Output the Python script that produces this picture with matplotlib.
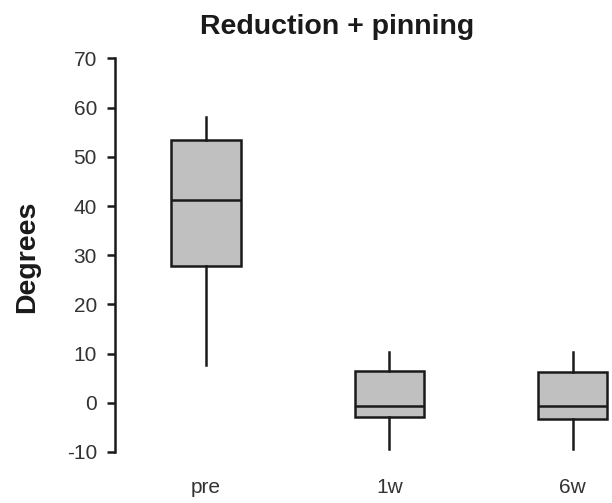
import matplotlib
matplotlib.use("Agg")
import matplotlib.pyplot as plt

plt.rcParams['font.family'] = ['Liberation Sans', 'DejaVu Sans']

# box stats (degrees)
groups = ['pre', '1w', '6w']
whislo = [7.6, -9.4, -9.4]
q1 = [27.9, -2.8, -3.2]
med = [41.3, -0.65, -0.65]
q3 = [53.4, 6.4, 6.3]
whishi = [58.2, 10.3, 10.3]

yticks = [-10, 0, 10, 20, 30, 40, 50, 60, 70]

stats = []
for i in range(len(groups)):
    stats.append(dict(label=groups[i], whislo=whislo[i], q1=q1[i], med=med[i],
                      q3=q3[i], whishi=whishi[i], fliers=[]))

fig = plt.figure(figsize=(6.12, 5.03), dpi=100)
ax = fig.add_axes([0.188, 0.1014, 0.812, 0.7823])

lw = 1.8
ax.bxp(stats, positions=[1, 2, 3], widths=0.38, patch_artist=True, showcaps=False,
       boxprops=dict(facecolor='#c0c0c0', edgecolor='#1a1a1a', linewidth=lw),
       medianprops=dict(color='#1a1a1a', linewidth=lw),
       whiskerprops=dict(color='#1a1a1a', linewidth=lw))

ax.set_xlim(0.503, 3.215)
ax.set_ylim(-10, 70)
ax.set_yticks(yticks)
ax.set_yticklabels([str(t) for t in yticks])

for s in ['top', 'right', 'bottom']:
    ax.spines[s].set_visible(False)
ax.spines['left'].set_linewidth(1.8)
ax.spines['left'].set_color('#1a1a1a')

ax.tick_params(axis='y', length=6, width=1.8, color='#1a1a1a', pad=7, labelsize=15, labelcolor='#333333')
ax.tick_params(axis='x', length=0, pad=19, labelsize=15, labelcolor='#333333')

fig.text(0.5515, 0.932, 'Reduction + pinning', ha='center', va='baseline',
         fontsize=20.5, fontweight='bold', color='#1a1a1a')
fig.text(0.044, 0.489, 'Degrees', ha='center', va='center', rotation=90,
         fontsize=20.5, fontweight='bold', color='#1a1a1a')

plt.savefig('out.png', dpi=100)
